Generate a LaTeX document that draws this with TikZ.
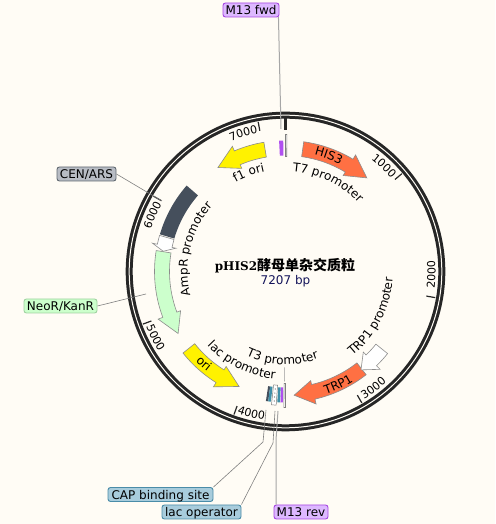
\documentclass[tikz,border=0pt]{standalone}
\usepackage{fontspec}
\setmainfont{DejaVu Sans}
\newfontfamily\titlelat{DejaVu Serif}
\newfontfamily\titlecjk{Noto Sans CJK SC}
\usetikzlibrary{decorations.text}
\definecolor{bgc}{HTML}{FFFCF5}
\definecolor{ringc}{HTML}{262626}
\definecolor{orangec}{HTML}{FF7043}
\definecolor{darkc}{HTML}{454F5C}
\definecolor{greenc}{HTML}{CCFFCC}
\definecolor{purplec}{HTML}{B050F0}
\definecolor{tealc}{HTML}{3F8FA8}
\newcommand{\ptext}{\fontsize{12}{14}\selectfont}
\newcommand{\ticktext}{\fontsize{11}{13}\selectfont}
\tikzset{
  feat/.style={draw=black!45,line width=0.6pt,line join=miter},
  tag/.style={rounded corners=2.5pt,line width=0.9pt,inner sep=0pt,minimum height=14pt,text depth=0pt,font=\ptext,anchor=center},
  tagpurple/.style={tag,fill={rgb,255:red,221;green,184;blue,255},draw={rgb,255:red,165;green,70;blue,225}},
  taggray/.style={tag,fill={rgb,255:red,184;green,188;blue,196},draw={rgb,255:red,96;green,104;blue,112}},
  taggreen/.style={tag,fill=greenc,draw={rgb,255:red,160;green,210;blue,160}},
  tagblue/.style={tag,fill={rgb,255:red,168;green,204;blue,220},draw={rgb,255:red,74;green,140;blue,168}},
  leader/.style={draw=black!50,line width=0.6pt},
  leaderfat/.style={draw=black!35,line width=1pt},
  ticklbl/.style={draw=ringc,line width=1.2pt}
}
\newcommand{\arrowfeat}[4]{%
  \draw[feat,fill=#4] ({90-(#1)}:131pt) arc[start angle={90-(#1)},end angle={90-(#2)},radius=131pt]
    -- ({90-(#2)}:136pt) -- ({90-(#3)}:124pt) -- ({90-(#2)}:112pt)
    -- ({90-(#2)}:116pt) arc[start angle={90-(#2)},end angle={90-(#1)},radius=116pt] -- cycle;}
\newcommand{\bandfeat}[3]{%
  \fill[#3] ({90-(#1)}:131pt) arc[start angle={90-(#1)},end angle={90-(#2)},radius=131pt]
    -- ({90-(#2)}:116pt) arc[start angle={90-(#2)},end angle={90-(#1)},radius=116pt] -- cycle;}
\newcommand{\arctext}[5]{%
  \path[decorate,decoration={text along path,text align=center,text={|#5|#4}}]
    ({90-(#1)}:#3pt) arc[start angle={90-(#1)},end angle={90-(#2)},radius=#3pt];}
\newcommand{\ticklabel}[1]{\draw[ticklbl] ({90-(#1)}:152pt) -- ({90-(#1)}:143pt);}
\begin{document}
\begin{tikzpicture}[x=1pt,y=1pt]
\useasboundingbox (0,0) rectangle (495,524);
\fill[bgc] (0,0) rectangle (495,524);
\coordinate (c) at (285.5,252.5);
\begin{scope}[shift={(c)}]
  \draw[ringc,line width=7pt] (0,0) circle[radius=156.3pt];
  \draw[bgc,line width=1pt] (0,0) circle[radius=156.3pt];
  \draw[ringc,line width=3pt] (90:153pt) -- (90:141pt);
  \foreach \a in {49.95,99.9,149.85,199.8,249.75,299.7,349.65}{\ticklabel{\a}}
  \arctext{37}{49}{141}{1000}{\ticktext}
  \arctext{97}{85}{150}{2000}{\ticktext}
  \arctext{149}{137}{150}{3000}{\ticktext}
  \arctext{-160.5}{-172.5}{150}{4000}{\ticktext}
  \arctext{-111}{-123}{150}{5000}{\ticktext}
  \arctext{-73}{-61}{141}{6000}{\ticktext}
  \arctext{-23}{-11}{141}{7000}{\ticktext}
  \arrowfeat{8}{31}{41}{orangec}
  \arrowfeat{-9.5}{-23}{-33}{yellow}
  \bandfeat{-49}{-73.5}{darkc}
  \arrowfeat{-74}{-78}{-80.6}{white}
  \arrowfeat{-80.8}{-110.5}{-120}{greenc}
  \arrowfeat{-128.5}{-148}{-158}{yellow}
  \arrowfeat{142}{167}{176}{orangec}
  \arrowfeat{128.8}{136}{142.5}{white}
  \bandfeat{-2.8}{-1.0}{purplec}
  \draw[black!50,line width=0.6pt,fill=white] (90:115pt) -- (90:137pt) -- (89.4:137pt) -- (89.4:115pt) -- cycle;
  \bandfeat{-171.4}{-172.4}{darkc}
  \bandfeat{-172.4}{-173.6}{tealc}
  \draw[black!50,line width=0.5pt,fill=white] ({90+174}:114pt) -- ({90+174}:134pt) -- ({90+176}:134pt) -- ({90+176}:114pt) -- cycle;
  \foreach \r in {118,122,126,130}{\fill[black!60] ({90+175}:\r pt) circle[radius=0.6pt];}
  \bandfeat{-176.4}{-177.6}{tealc}
  \bandfeat{-177.8}{-178.8}{purplec}
  \draw[black!50,line width=0.6pt,fill=white] ({90+179.3}:112pt) -- ({90+179.3}:136pt) -- ({90+180}:136pt) -- ({90+180}:112pt) -- cycle;
  \draw[black!40,line width=0.6pt] ({90+179.5}:96pt) -- ({90+179.5}:110pt);
  \arctext{-1}{52}{100}{T7 promoter}{\ptext}
  \arctext{-33}{-8}{102}{f1 ori}{\ptext}
  \arctext{7}{34}{120}{HIS3}{\ptext}
  \arctext{-106}{-46}{98}{AmpR promoter}{\ptext}
  \arctext{-130}{-178}{108}{lac promoter}{\ptext}
  \arctext{-153}{-203}{93}{T3 promoter}{\ptext}
  \arctext{145}{90}{107.5}{TRP1 promoter}{\ptext}
  \arctext{170}{140}{129}{TRP1}{\ptext}
  \arctext{-128}{-149}{127}{ori}{\ptext}
\end{scope}
\node[font=\ptext,anchor=center,inner sep=0pt] (title) at (285,258.5) {\bfseries{\titlelat pHIS2}{\titlecjk\fontsize{14}{16}\selectfont 酵母单杂交质粒}};
\node[font=\ptext,anchor=center,inner sep=0pt,text={rgb,255:red,20;green,20;blue,90}] (size) at (285.5,243) {7207 bp};
\node[tagpurple,minimum width=56pt] (m13f) at (251,514) {M13 fwd};
\node[taggray,minimum width=59pt] (cen) at (86.5,350) {CEN/ARS};
\node[taggreen,minimum width=73pt] (neo) at (60.5,218) {NeoR/KanR};
\node[tagblue,minimum width=105pt] (cap) at (160.5,29.5) {CAP binding site};
\node[tagblue,minimum width=79pt] (lacop) at (201.5,12) {lac operator};
\node[tagpurple,minimum width=54pt] (m13r) at (301,12) {M13 rev};
\coordinate (e1) at (281,395);
\coordinate (e2) at (162,323);
\coordinate (e3) at (146,230);
\coordinate (b1) at (263,82);
\coordinate (e4) at (266,114);
\coordinate (b2) at (273,81);
\coordinate (e5) at (275,113);
\coordinate (b3) at (276,84);
\coordinate (e6) at (278,113);
\draw[leaderfat] (m13f.east) ++(-1,-7) -- (e1);
\draw[leader] (cen.east) -- (e2);
\draw[leader] (neo.east) -- (e3);
\draw[leader] (cap.north east) -- (b1) -- (e4);
\draw[leader] (lacop.north east) -- (b2) -- (e5);
\draw[leaderfat] (m13r.north) ++(-25,0) -- (b3) -- (e6);
\end{tikzpicture}
\end{document}
